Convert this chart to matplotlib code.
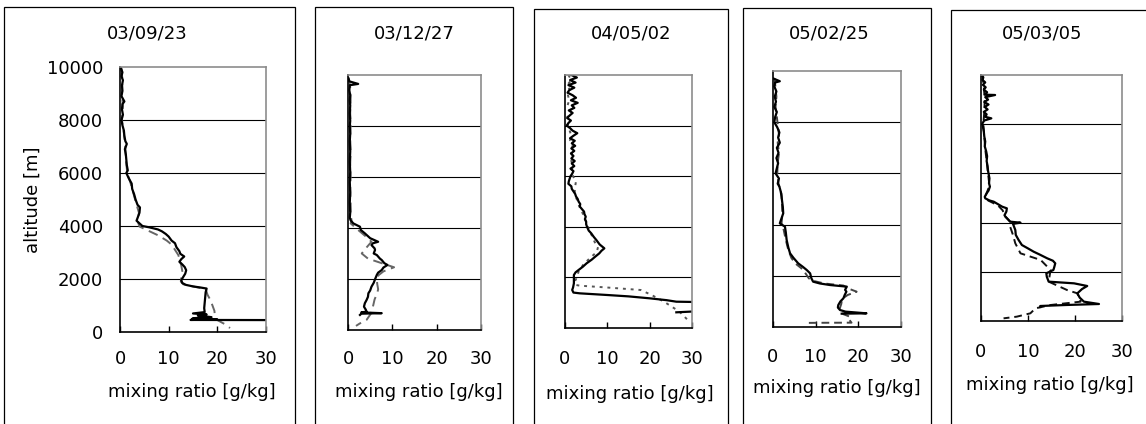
import numpy as np
import matplotlib.pyplot as plt
from matplotlib.patches import Rectangle

plt.rcParams['font.family'] = ['DejaVu Sans']
plt.rcParams['font.size'] = 13

dates = ['03/09/23', '03/12/27', '04/05/02', '05/02/25', '05/03/05']
x_ticks = [0, 10, 20, 30]
y_ticks = [0, 2000, 4000, 6000, 8000, 10000]

# 03/09/23
alt1_solid = [9950, 9800, 9650, 9500, 9300, 9100, 8900, 8700, 8600, 8400, 8200, 8000, 7800, 7600,
              7400, 7200, 7100, 6900, 6700, 6500, 6300, 6100, 6000, 5800, 5600, 5400, 5200, 5000,
              4800, 4700, 4500, 4350, 4200, 4100, 4000, 3950, 3870, 3800, 3700, 3600, 3450, 3350,
              3200, 3050, 2950, 2850, 2750, 2650, 2550, 2450, 2330, 2200, 2050, 1950, 1850, 1780,
              1720, 1680, 1640, 1500, 1300, 1100, 900, 750, 700, 660, 620, 560, 520, 490, 470, 455, 450]
mr1_solid = [0.2, 0.5, 0.3, 0.6, 0.4, 0.5, 0.3, 0.9, 0.5, 0.4, 0.6, 0.3, 0.5, 0.8,
             0.9, 1.1, 1.4, 1.0, 1.2, 1.3, 1.4, 1.6, 1.3, 1.8, 2.4, 2.5, 2.9, 3.2,
             3.6, 4.1, 4.0, 3.7, 3.4, 4.0, 4.6, 6.0, 7.8, 8.6, 9.4, 10.0, 10.6, 11.3,
             11.6, 12.2, 12.4, 13.2, 12.6, 12.2, 12.8, 13.3, 13.6, 13.4, 12.9, 12.6, 12.8, 13.5,
             15.0, 16.5, 17.8, 17.6, 17.5, 17.4, 17.3, 17.4, 15.0, 17.8, 16.0, 18.8, 15.0, 14.8, 20.0, 14.5, 30.0]
alt1_dash = [9950, 9500, 9000, 8500, 8000, 7500, 7000, 6500, 6000, 5600, 5200, 4800, 4500, 4200,
             3980, 3850, 3650, 3450, 3300, 3100, 2900, 2700, 2500, 2300, 2100, 1900, 1800, 1700,
             1620, 1400, 1200, 1000, 800, 600, 450, 300, 150]
mr1_dash = [0.3, 0.5, 0.4, 0.6, 0.4, 0.8, 1.1, 1.2, 1.5, 2.2, 2.8, 3.4, 3.9, 3.6,
            4.0, 5.5, 7.8, 9.6, 10.6, 11.3, 12.0, 12.3, 12.6, 12.8, 12.6, 12.5, 13.0, 15.5,
            17.6, 18.0, 18.6, 19.0, 19.4, 19.5, 20.0, 21.5, 22.6]

# 03/12/27
alt2_solid = [9870, 9750, 9650, 9600, 9400, 9200, 9000, 8800, 8500, 8200, 8000, 7700, 7400, 7000,
              6600, 6200, 5800, 5400, 5000, 4600, 4400, 4300, 4180, 4050, 3920, 3790, 3600, 3460,
              3400, 3330, 3200, 3140, 3000, 2940, 2800, 2745, 2620, 2550, 2450, 2350, 2250, 2160,
              1990, 1850, 1700, 1550, 1440, 1300, 1180, 1050, 915, 800, 720, 690, 660, 640, 590]
mr2_solid = [0.1, 0.3, 2.3, 0.4, 0.3, 0.5, 0.4, 0.5, 0.4, 0.5, 0.4, 0.5, 0.4, 0.5,
             0.4, 0.5, 0.4, 0.5, 0.4, 0.5, 0.4, 0.6, 1.2, 2.7, 2.9, 3.8, 5.0, 6.8,
             5.6, 5.3, 6.0, 6.1, 5.8, 6.5, 7.2, 7.6, 8.2, 8.9, 8.0, 7.6, 6.8, 6.5,
             6.1, 5.8, 5.3, 5.0, 4.6, 4.5, 4.2, 3.8, 3.6, 4.0, 4.2, 3.0, 7.6, 3.0, 2.7]
alt2_dash = [9870, 9500, 9000, 8500, 8000, 7500, 7000, 6500, 6000, 5500, 5000, 4500, 4300, 4180,
             3920, 3700, 3460, 3200, 3000, 2800, 2620, 2460, 2300, 2150, 1990, 1800, 1600, 1450,
             1200, 900, 650, 400, 250, 160]
mr2_dash = [0.2, 0.5, 0.6, 0.5, 0.6, 0.5, 0.6, 0.5, 0.6, 0.5, 0.6, 0.6, 0.8, 0.6,
            2.3, 3.8, 5.3, 4.0, 3.1, 4.5, 7.6, 10.4, 8.0, 6.9, 6.5, 6.6, 6.8, 6.6,
            6.0, 5.6, 5.2, 4.2, 2.6, 1.8]

# 04/05/02
alt3_solid = [10000, 9900, 9800, 9700, 9600, 9500, 9400, 9300, 9200, 9100, 9000, 8900, 8800, 8700,
              8600, 8500, 8400, 8300, 8200, 8100, 8000, 7900, 7800, 7700, 7600, 7500, 7400, 7300,
              7200, 7100, 7000, 6900, 6800, 6700, 6600, 6500, 6400, 6300, 6200, 6100, 6000, 5900,
              5800, 5700, 5600, 5500, 5400, 5300, 5200, 5100, 5000, 4900, 4800, 4700, 4600, 4500,
              4400, 4300, 4200, 4100, 4000, 3850, 3742, 3600, 3478, 3300, 3149, 3050, 2951, 2800,
              2700, 2556, 2420, 2292, 2200, 2095, 1900, 1765, 1600, 1502, 1400, 1370, 1304, 1250,
              1173, 1100, 1040, 1030, np.nan, 650, 620]
mr3_solid = [1.5, 2.8, 1.2, 2.5, 0.8, 2.2, 1.0, 0.6, 1.8, 2.6, 1.4, 3.0, 1.6, 2.2,
             0.9, 1.8, 1.1, 0.5, 1.4, 0.8, 0.4, 1.2, 1.8, 2.9, 2.0, 1.2, 2.3, 1.6,
             2.4, 1.5, 2.2, 1.4, 2.0, 1.5, 2.3, 1.6, 2.2, 1.3, 2.0, 1.7, 1.3, 1.1,
             0.9, 0.8, 1.5, 1.6, 2.0, 2.4, 2.6, 3.0, 3.2, 3.6, 3.5, 4.0, 4.5, 4.6,
             4.9, 4.7, 5.0, 5.0, 5.2, 5.6, 6.2, 6.8, 7.4, 8.2, 9.3, 8.6, 8.1, 7.0,
             6.3, 5.1, 4.2, 3.2, 2.5, 2.1, 2.1, 2.1, 1.9, 1.7, 2.0, 3.5, 10.0, 15.0,
             20.0, 24.0, 26.3, 30.0, np.nan, 30.0, 26.3]
alt3_dot = [10000, 9800, 9600, 9400, 9200, 9000, 8800, 8600, 8400, 8200, 8000, 7800, 7600, 7400,
            7200, 7000, 6800, 6600, 6400, 6200, 6000, 5800, 5600, 5400, 5200, 5000, 4800, 4600,
            4400, 4200, 4000, 3800, 3600, 3400, 3200, 3000, 2900, 2700, 2500, 2300, 2226, 2000,
            1831, 1700, 1673, 1600, 1502, 1300, 1040, 650, 250]
mr3_dot = [0.8, 1.5, 0.5, 1.2, 0.7, 1.0, 0.6, 1.3, 0.5, 0.9, 0.6, 1.1, 1.5, 1.2,
           1.8, 1.4, 1.7, 1.5, 1.8, 1.6, 1.9, 2.6, 2.4, 2.3, 2.5, 3.0, 3.4, 4.0,
           4.5, 5.0, 5.4, 5.9, 6.5, 7.0, 7.8, 7.5, 6.8, 5.5, 4.3, 3.5, 3.2, 2.8,
           2.3, 2.6, 3.5, 10.0, 17.9, 20.5, 23.4, 27.0, 29.4]

# 05/02/25
alt4_solid = [9700, 9600, 9550, 9400, 9200, 9000, 8800, 8600, 8400, 8200, 8000, 7800, 7600, 7400,
              7200, 7000, 6800, 6600, 6400, 6200, 6000, 5800, 5600, 5482, 5300, 5100, 4961, 4700,
              4440, 4200, 4049, 3919, 3700, 3398, 3100, 2878, 2700, 2487, 2350, 2227, 2096, 1901,
              1771, 1700, 1641, 1576, 1450, 1380, 1250, 1120, 1000, 859, 760, 664, 600, 534, 520]
mr4_solid = [0.2, 1.6, 0.5, 0.3, 0.8, 0.4, 0.7, 0.3, 0.9, 0.5, 0.3, 1.0, 1.5, 1.2,
             1.6, 0.9, 1.3, 0.8, 1.2, 0.9, 0.6, 1.4, 1.1, 1.5, 1.8, 2.0, 2.1, 2.3,
             2.4, 1.9, 1.6, 2.8, 3.0, 3.2, 3.6, 4.0, 4.8, 5.9, 7.0, 7.9, 8.7, 9.0,
             9.4, 11.0, 13.3, 17.3, 16.9, 17.2, 16.8, 16.5, 15.8, 15.3, 15.2, 15.7, 17.0, 21.9, 16.1]
alt4_dash = [9700, 9300, 9000, 8600, 8200, 7800, 7500, 7200, 6800, 6400, 6000, 5600, 5200, 4800,
             4400, 4049, 3800, 3400, 3000, 2700, 2487, 2300, 2150, 1900, 1800, 1700, 1620, 1500,
             1380, 1250, 1100, 900, 700, 500, 404, 300, 169, 165, 160]
mr4_dash = [0.4, 0.6, 0.8, 0.6, 0.9, 1.2, 1.4, 1.1, 1.4, 1.1, 1.0, 1.3, 2.0, 2.1,
            2.2, 2.0, 2.5, 3.0, 3.6, 4.3, 5.2, 6.6, 7.4, 8.4, 9.5, 12.0, 16.5, 17.7,
            19.6, 17.5, 16.2, 16.0, 15.6, 16.5, 18.0, 17.8, 18.4, 12.0, 7.9]

# 05/03/05
alt5_solid = [10000, 9900, 9800, 9700, 9600, 9500, 9400, 9300, 9200, 9187, 9100, 9000, 8900, 8800,
              8700, 8600, 8500, 8400, 8300, 8238, 8150, 8035, 7900, 7700, 7500, 7300, 7100, 6900,
              6700, 6500, 6300, 6100, 6003, 5800, 5600, 5461, 5300, 5190, 5050, 4987, 4900, 4851,
              4750, 4648, 4580, 4450, 4300, 4240, 4100, 4038, 3996, 3950, 3850, 3699, 3500, 3293,
              3089, 2950, 2818, 2700, 2547, 2450, 2344, 2200, 2073, 1938, 1800, 1599, 1531, 1423,
              1300, 1125, 950, 786, 691, 650, 610, 570]
mr5_solid = [0.2, 0.5, 0.3, 0.9, 0.4, 1.0, 0.6, 1.3, 0.8, 3.0, 0.9, 1.5, 0.7, 1.6,
             0.8, 1.4, 0.6, 1.2, 0.9, 2.2, 0.7, 0.3, 0.4, 0.6, 0.7, 0.9, 0.8, 1.1,
             1.3, 1.2, 1.4, 1.5, 1.6, 1.8, 1.7, 1.9, 1.6, 1.2, 0.8, 0.9, 1.8, 2.7,
             3.6, 4.5, 5.5, 5.4, 5.0, 5.2, 5.9, 6.2, 8.4, 6.8, 7.0, 7.3, 7.4, 8.0,
             8.7, 10.0, 11.2, 12.5, 14.1, 15.3, 15.8, 15.6, 15.4, 13.9, 14.0, 14.4, 19.8, 22.6,
             21.5, 20.5, 21.0, 21.9, 25.1, 18.0, 12.6, 12.6]
alt5_dash = [10000, 9500, 9000, 8500, 8000, 7500, 7000, 6500, 6000, 5500, 5100, 4900, 4700, 4500,
             4240, 4038, 3834, 3500, 3157, 2751, 2480, 2073, 1599, 1260, 1125, 786, 650, 515,
             312, 176, 108]
mr5_dash = [0.3, 0.6, 0.8, 0.7, 0.5, 0.7, 0.9, 1.2, 1.5, 1.8, 1.0, 1.5, 3.6, 4.6,
            5.2, 6.2, 6.2, 6.8, 7.3, 8.4, 12.7, 14.8, 14.4, 18.3, 20.5, 21.2, 14.8, 11.6,
            10.5, 7.6, 4.8]

profiles = [
    (alt1_solid, mr1_solid, alt1_dash, mr1_dash, (0, (5, 3)), '#666666'),
    (alt2_solid, mr2_solid, alt2_dash, mr2_dash, (0, (5, 3)), '#666666'),
    (alt3_solid, mr3_solid, alt3_dot, mr3_dot, (0, (1.5, 2.5)), '#555555'),
    (alt4_solid, mr4_solid, alt4_dash, mr4_dash, (0, (4, 2.5)), '#444444'),
    (alt5_solid, mr5_solid, alt5_dash, mr5_dash, (0, (4, 2.5)), '#111111'),
]

W, H = 1146, 424
fig = plt.figure(figsize=(W / 100, H / 100), dpi=100)

# layout in pixels
boxes = [(4, 7, 295), (315, 7, 513), (534, 9, 728), (743, 8, 931), (951, 10, 1170)]
title_x = [147, 414, 631, 829, 1042]
axes_px = [(120, 67, 266, 332), (348, 75, 481, 330), (565, 75, 692, 328),
           (773, 71, 901, 327), (981, 75, 1122, 321)]
ticklab_y = [357, 357, 357, 355, 350]
xlab_xy = [(192, 392), (419, 392), (630, 394), (837, 388), (1050, 385)]

for i, (x0, top, x1) in enumerate(boxes):
    fig.add_artist(Rectangle((x0 / W, -0.1), (x1 - x0) / W, 1.1 - top / H,
                             transform=fig.transFigure, fill=False, lw=0.9,
                             ec='black', clip_on=False))
    fig.text(title_x[i] / W, 1 - 33 / H, dates[i], ha='center', va='center')

for i, (l, t, r, b) in enumerate(axes_px):
    ax = fig.add_axes([l / W, 1 - b / H, (r - l) / W, (b - t) / H])
    a_s, m_s, a_d, m_d, ls, col = profiles[i]
    ax.plot(m_d, a_d, color=col, lw=1.4, ls=ls)
    ax.plot(m_s, a_s, color='black', lw=1.6)
    ax.set_xlim(0, 30)
    ax.set_ylim(0, 10000)
    ax.set_xticks(x_ticks)
    ax.set_yticks(y_ticks)
    for y in y_ticks[1:-1]:
        ax.axhline(y, color='black', lw=0.8, zorder=0)
    for s in ['top', 'right']:
        ax.spines[s].set_color('#8c8c8c')
        ax.spines[s].set_linewidth(1.2)
    for s in ['left', 'bottom']:
        ax.spines[s].set_color('black')
        ax.spines[s].set_linewidth(1.2)
    pad = (ticklab_y[i] - 7 - b) * 0.72
    ax.tick_params(axis='x', direction='in', length=4, width=1, pad=pad)
    ax.tick_params(axis='y', length=0, pad=12)
    if i > 0:
        ax.set_yticklabels([])
    else:
        ax.set_ylabel('altitude [m]', va='center')
        ax.yaxis.set_label_coords((33 - l) / (r - l), 0.5)
    ax.set_xlabel('mixing ratio [g/kg]', va='center')
    cx, cy = xlab_xy[i]
    ax.xaxis.set_label_coords((cx - l) / (r - l), (b - cy) / (b - t))

fig.savefig('out.png', dpi=100)
